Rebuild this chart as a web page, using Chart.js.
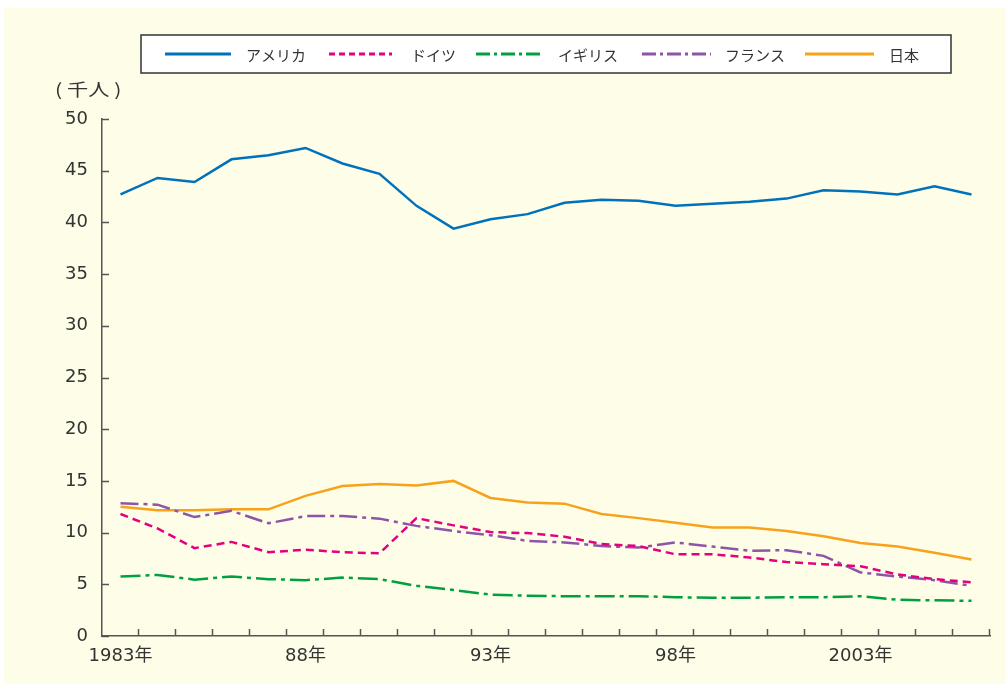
<!DOCTYPE html>
<html>
<head>
<meta charset="utf-8">
<script src="https://cdn.jsdelivr.net/npm/chart.js@4/dist/chart.umd.min.js"></script>
<style>
html,body{margin:0;padding:0;background:#ffffff;}
#wrap{width:1006px;height:684px;position:relative;}
</style>
</head>
<body>
<div id="wrap"><canvas id="c" width="1006" height="684"></canvas></div>
<script>
const years = [1983,1984,1985,1986,1987,1988,1989,1990,1991,1992,1993,1994,1995,1996,1997,1998,1999,2000,2001,2002,2003,2004,2005,2006];
const shownTickLabels = {1983:'1983年',1988:'88年',1993:'93年',1998:'98年',2003:'2003年'};
const seriesNames = ['アメリカ','ドイツ','イギリス','フランス','日本'];
const usa     = [42.7,44.3,43.9,46.1,46.5,47.2,45.7,44.7,41.6,39.4,40.3,40.8,41.9,42.2,42.1,41.6,41.8,42.0,42.3,43.1,43.0,42.7,43.5,42.7];
const germany = [11.8,10.4,8.5,9.1,8.1,8.35,8.1,8.0,11.4,10.7,10.05,9.95,9.6,8.9,8.7,7.9,7.9,7.6,7.15,6.95,6.75,5.95,5.5,5.2];
const uk      = [5.75,5.9,5.45,5.75,5.5,5.4,5.65,5.5,4.85,4.45,4.0,3.9,3.85,3.85,3.85,3.75,3.7,3.7,3.75,3.75,3.85,3.5,3.45,3.4];
const france  = [12.85,12.7,11.5,12.1,10.9,11.6,11.6,11.35,10.65,10.15,9.75,9.2,9.05,8.7,8.55,9.05,8.65,8.25,8.3,7.75,6.15,5.75,5.4,4.85];
const japan   = [12.5,12.15,12.15,12.25,12.25,13.55,14.5,14.7,14.55,15.0,13.35,12.9,12.8,11.8,11.4,10.95,10.5,10.5,10.15,9.65,9.0,8.65,8.05,7.4];
const yTicks  = [0,5,10,15,20,25,30,35,40,45,50];

const FONT = '"Noto Sans CJK JP", "Liberation Sans", sans-serif';
const TICKFONT = '"DejaVu Sans", "Noto Sans CJK JP", sans-serif';
const styles = [
  {color:'#0072BC', dash:[]},
  {color:'#E4007F', dash:[8,5]},
  {color:'#00A040', dash:[20,5,4,5]},
  {color:'#8E55A7', dash:[18,5,4,5]},
  {color:'#F7A21B', dash:[]}
];
const legendDash = [[],[6,4],[14,4,3,4],[14,4,3,4],[]];
const seriesData = [usa, germany, uk, france, japan];

const decor = {
  id:'decor',
  beforeDraw(chart){
    const ctx = chart.ctx;
    ctx.save();
    ctx.fillStyle = '#FEFDE8';
    ctx.fillRect(4, 8, 1002, 676);
    ctx.restore();
  },
  afterDraw(chart){
    const ctx = chart.ctx;
    const xs = chart.scales.x, ys = chart.scales.y;
    const ca = chart.chartArea;
    ctx.save();
    ctx.strokeStyle = '#555555';
    ctx.lineWidth = 1.5;
    yTicks.forEach(v => {
      const y = Math.round(ys.getPixelForValue(v)) + 0.5;
      ctx.beginPath(); ctx.moveTo(ca.left, y); ctx.lineTo(ca.left + 7, y); ctx.stroke();
    });
    for (let i = 1; i <= years.length; i++) {
      let x;
      if (i === years.length) x = ca.right;
      else x = (xs.getPixelForValue(i - 1) + xs.getPixelForValue(i)) / 2;
      x = Math.round(x) - 0.5;
      ctx.beginPath(); ctx.moveTo(x, ca.bottom); ctx.lineTo(x, ca.bottom - 7); ctx.stroke();
    }
    // unit label (slightly widened like the original)
    ctx.save();
    ctx.fillStyle = '#333333';
    ctx.font = '17px ' + FONT;
    ctx.textBaseline = 'middle';
    ctx.textAlign = 'left';
    ctx.translate(55, 90);
    ctx.scale(1.25, 1);
    ctx.fillText('( 千人 )', 0, 0);
    ctx.restore();
    // legend box
    ctx.fillStyle = '#ffffff';
    ctx.fillRect(141, 35, 810, 38);
    ctx.strokeStyle = '#333333';
    ctx.lineWidth = 1.5;
    ctx.strokeRect(141, 35, 810, 38);
    const sampleX = [[165,231],[329,392],[476,544],[642,711],[805,874]];
    const textX = [246,411,558,725,889];
    for (let k = 0; k < 5; k++) {
      ctx.strokeStyle = styles[k].color;
      ctx.lineWidth = 3;
      ctx.setLineDash(legendDash[k]);
      ctx.beginPath(); ctx.moveTo(sampleX[k][0], 54); ctx.lineTo(sampleX[k][1], 54); ctx.stroke();
      ctx.setLineDash([]);
      ctx.fillStyle = '#333333';
      ctx.font = '15px ' + FONT;
      ctx.textBaseline = 'middle';
      ctx.fillText(seriesNames[k], textX[k], 55);
    }
    ctx.restore();
  }
};

new Chart(document.getElementById('c'), {
  type:'line',
  data:{
    labels: years,
    datasets: seriesData.map((d,k)=>({
      label: seriesNames[k],
      data: d,
      borderColor: styles[k].color,
      backgroundColor: styles[k].color,
      borderWidth: 2.5,
      borderDash: styles[k].dash,
      pointRadius: 0,
      tension: 0,
      fill: false
    }))
  },
  options:{
    responsive:false,
    animation:false,
    layout:{padding:{top:119,right:16,left:0,bottom:0}},
    plugins:{legend:{display:false},tooltip:{enabled:false}},
    scales:{
      x:{
        type:'category',
        offset:true,
        grid:{display:false, drawTicks:false},
        border:{display:true,color:'#555555',width:1.5},
        ticks:{
          autoSkip:false, maxRotation:0, minRotation:0, padding:10,
          color:'#333333', font:{family:TICKFONT,size:18},
          callback:function(v,i){ const y = years[i]; return shownTickLabels[y] || ''; }
        },
        afterFit(s){ s.height = 48; }
      },
      y:{
        min:0,max:50,
        grid:{display:false, drawTicks:false},
        border:{display:true,color:'#555555',width:1.5},
        ticks:{stepSize:5, padding:14, color:'#333333', font:{family:TICKFONT,size:18}},
        afterFit(s){ s.width = 102; }
      }
    }
  },
  plugins:[decor]
});
</script>
</body>
</html>
